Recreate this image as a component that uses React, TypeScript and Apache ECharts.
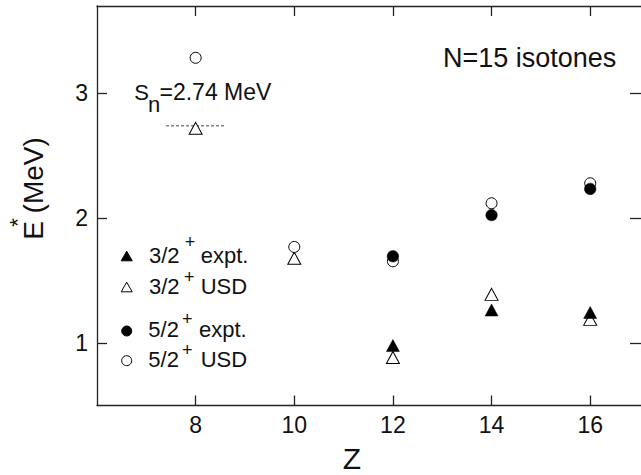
import React, { useEffect, useRef } from "react";
import * as echarts from "echarts";

// ---- data ----
const zUSD = [8, 10, 12, 14, 16];
const e32USD = [2.72, 1.68, 0.885, 1.39, 1.19];
const e52USD = [3.285, 1.77, 1.655, 2.12, 2.28];
const zExpt = [12, 14, 16];
const e32Expt = [0.98, 1.265, 1.245];
const e52Expt = [1.695, 2.025, 2.235];
const snValue = 2.74;
const snRange = [7.4, 8.6];
const xTicks = [8, 10, 12, 14, 16];
const yTicks = [1, 2, 3];
const xRange = [6, 17.03];
const yRange = [0.5, 3.7];

const FONT = "'Liberation Sans', Arial, Helvetica, sans-serif";
const INK = "#111";

function pairs(xs: number[], ys: number[]) {
  return xs.map((x, i) => [x, ys[i]]);
}

function txt(text: string, x: number, y: number, size: number, align = "left", extra: any = {}) {
  return {
    type: "text",
    x,
    y,
    silent: true,
    ...extra,
    style: {
      text,
      fontSize: size,
      fontFamily: FONT,
      fill: INK,
      textAlign: align,
      textVerticalAlign: "middle",
      align,
      verticalAlign: "middle",
    },
  };
}

function tri(cx: number, cy: number, filled: boolean) {
  return {
    type: "polygon",
    silent: true,
    shape: { points: [[cx - 5.5, cy + 4.8], [cx + 5.5, cy + 4.8], [cx, cy - 4.8]] },
    style: { fill: filled ? "#000" : "#fff", stroke: "#000", lineWidth: 1 },
  };
}
function circ(cx: number, cy: number, filled: boolean) {
  return {
    type: "circle",
    silent: true,
    shape: { cx, cy, r: 5 },
    style: { fill: filled ? "#000" : "#fff", stroke: "#000", lineWidth: 1 },
  };
}

export default function App() {
  const ref = useRef<HTMLDivElement>(null);
  useEffect(() => {
    if (!ref.current) return;
    const chart = echarts.init(ref.current, null, { renderer: "svg" });
    const axisLine = { show: true, lineStyle: { color: "#222", width: 1.3 } };
    const tick = { show: true, inside: true, length: 10, lineStyle: { color: "#222", width: 1.3 } };
    const openStyle = { color: "#fff", borderColor: "#000", borderWidth: 1, opacity: 1 };
    const fillStyle = { color: "#000", borderColor: "#000", borderWidth: 0.5, opacity: 1 };
    const labelStyle = { fontSize: 23, fontFamily: FONT, color: INK };
    chart.setOption({
      animation: false,
      backgroundColor: "#fff",
      grid: { left: 97, top: 6, right: -2.5, height: 399.5, containLabel: false },
      xAxis: [
        {
          type: "value",
          min: xRange[0],
          max: xRange[1],
          position: "bottom",
          axisLine,
          axisTick: { ...tick, customValues: xTicks },
          axisLabel: { customValues: xTicks, ...labelStyle, margin: 8 },
          splitLine: { show: false },
        },
        {
          type: "value",
          min: xRange[0],
          max: xRange[1],
          position: "top",
          axisLine,
          axisTick: { ...tick, customValues: xTicks },
          axisLabel: { show: false, customValues: xTicks },
          splitLine: { show: false },
        },
      ],
      yAxis: [
        {
          type: "value",
          min: yRange[0],
          max: yRange[1],
          position: "left",
          axisLine,
          axisTick: { ...tick, customValues: yTicks },
          axisLabel: { customValues: yTicks, ...labelStyle, margin: 9 },
          splitLine: { show: false },
        },
        {
          type: "value",
          min: yRange[0],
          max: yRange[1],
          position: "right",
          axisLine: { show: false },
          axisTick: { ...tick, length: 11, customValues: yTicks },
          axisLabel: { show: false, customValues: yTicks },
          splitLine: { show: false },
        },
      ],
      series: [
        {
          name: "Sn",
          type: "line",
          data: snRange.map((z) => [z, snValue]),
          symbol: "none",
          lineStyle: { color: "#444", width: 1, type: [3, 2] },
          silent: true,
          z: 1,
        },
        {
          name: "3/2+ USD",
          type: "scatter",
          data: pairs(zUSD, e32USD),
          symbol: "triangle",
          symbolSize: [13, 12],
          itemStyle: openStyle,
          z: 2,
        },
        {
          name: "5/2+ USD",
          type: "scatter",
          data: pairs(zUSD, e52USD),
          symbol: "circle",
          symbolSize: 11,
          itemStyle: openStyle,
          z: 2,
        },
        {
          name: "3/2+ expt.",
          type: "scatter",
          data: pairs(zExpt, e32Expt),
          symbol: "triangle",
          symbolSize: [13, 12],
          itemStyle: fillStyle,
          z: 3,
        },
        {
          name: "5/2+ expt.",
          type: "scatter",
          data: pairs(zExpt, e52Expt),
          symbol: "circle",
          symbolSize: 11.5,
          itemStyle: fillStyle,
          z: 3,
        },
      ],
      graphic: [
        // axis titles
        txt("Z", 352, 458.3, 30, "center"),
        txt("E (MeV)", 33, 188.5, 28, "center", { rotation: Math.PI / 2 }),
        txt("*", 17, 222.5, 22, "center", { rotation: Math.PI / 2 }),
        // annotations
        txt("N=15 isotones", 443, 57.6, 27),
        txt("S", 134.3, 92.4, 22),
        txt("n", 148, 104, 22),
        txt("=2.74 MeV", 159.5, 92, 23),
        // legend
        tri(126.7, 256, true),
        txt("3/2", 149, 255.1, 22),
        txt("+", 190, 241.7, 18, "center"),
        txt("expt.", 200.7, 255.1, 22),
        tri(126.7, 287, false),
        txt("3/2", 149, 286.4, 22),
        txt("+", 189.3, 276.7, 18, "center"),
        txt("USD", 200.7, 286.4, 22),
        circ(126.7, 331, true),
        txt("5/2", 148.3, 329.7, 22),
        txt("+", 187.3, 319, 18, "center"),
        txt("expt.", 199, 329.7, 22),
        circ(126.7, 360.7, false),
        txt("5/2", 148.3, 359.7, 22),
        txt("+", 187.3, 350, 18, "center"),
        txt("USD", 200.7, 359.7, 22),
      ],
    });
    return () => chart.dispose();
  }, []);
  return (
    <div
      ref={ref}
      style={{ position: "absolute", left: 0, top: 0, width: 641, height: 475, background: "#fff" }}
    />
  );
}
